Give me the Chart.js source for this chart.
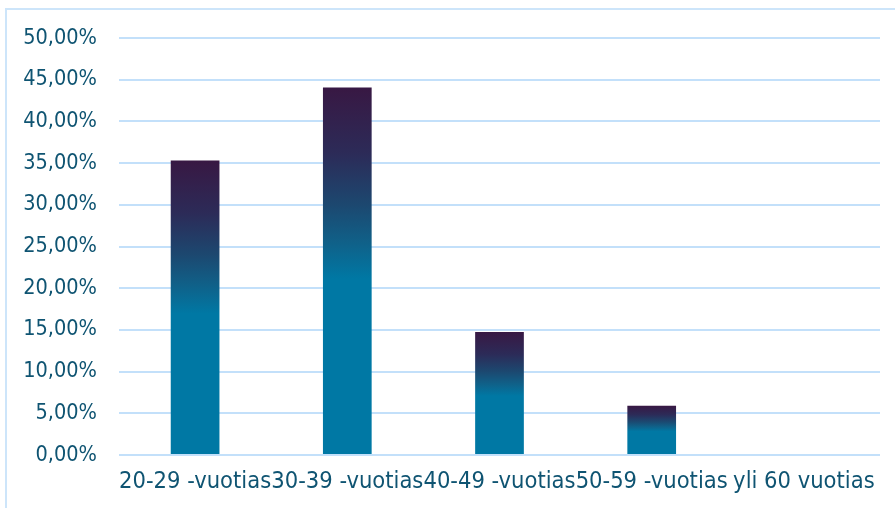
<!DOCTYPE html>
<html>
<head>
<meta charset="utf-8">
<script src="https://cdn.jsdelivr.net/npm/chart.js@4"></script>
<style>
  html, body { margin: 0; padding: 0; background: #ffffff; }
  #wrap { width: 895px; height: 508px; position: relative; }
</style>
</head>
<body>
<div id="wrap"><canvas id="chart" width="895" height="508"></canvas></div>
<script>
// Age groups and their shares (%)
const categories = ['20-29 -vuotias', '30-39 -vuotias', '40-49 -vuotias', '50-59 -vuotias', 'yli 60 vuotias'];
const shares = [35.3, 44.05, 14.75, 5.9, 0];
const yTickMax = 50;
const yTickStep = 5;

const TEXT = '#0f5472';
const GRID = '#c3e0fa';
const FONT = '"DejaVu Sans Condensed", "DejaVu Sans", sans-serif';

// Vertical gradient per bar: dark plum at the top fading to teal by the middle
function barFill(ctx) {
  const chart = ctx.chart;
  const y = chart.scales.y;
  if (!y || ctx.parsed === undefined) return '#0078a4';
  const top = y.getPixelForValue(ctx.parsed.y);
  const bottom = y.getPixelForValue(0);
  if (!isFinite(top) || bottom - top < 1) return '#0078a4';
  const g = chart.ctx.createLinearGradient(0, top, 0, bottom);
  g.addColorStop(0, '#381843');
  g.addColorStop(0.18, '#2c2b58');
  g.addColorStop(0.32, '#1c4870');
  g.addColorStop(0.42, '#106088');
  g.addColorStop(0.52, '#0078a4');
  g.addColorStop(1, '#0078a4');
  return g;
}

// Thin frame along the top and left edges of the chart box
const frame = {
  id: 'frame',
  beforeDraw(chart) {
    const c = chart.ctx;
    c.save();
    c.strokeStyle = '#cde5fa';
    c.lineWidth = 2;
    c.beginPath();
    c.moveTo(6, 508);
    c.lineTo(6, 9);
    c.lineTo(895, 9);
    c.stroke();
    c.restore();
  }
};

new Chart(document.getElementById('chart'), {
  type: 'bar',
  data: {
    labels: categories,
    datasets: [{
      data: shares,
      backgroundColor: barFill,
      borderWidth: 0,
      categoryPercentage: 1,
      barPercentage: 0.32
    }]
  },
  options: {
    responsive: false,
    animation: false,
    layout: { padding: { top: 38, right: 15, left: 0, bottom: 0 } },
    plugins: { legend: { display: false }, tooltip: { enabled: false } },
    scales: {
      x: {
        grid: { display: false, drawTicks: false },
        border: { display: false },
        ticks: {
          color: TEXT,
          font: { family: FONT, size: 23.5 },
          padding: 13,
          autoSkip: false,
          maxRotation: 0,
          minRotation: 0
        },
        afterFit(scale) { scale.height = 53; }
      },
      y: {
        min: 0,
        max: yTickMax,
        grid: { color: GRID, lineWidth: 2, drawTicks: false },
        border: { display: false },
        ticks: {
          stepSize: yTickStep,
          color: TEXT,
          font: { family: FONT, size: 21.5 },
          padding: 22,
          callback: v => v.toFixed(2).replace('.', ',') + '%'
        },
        afterFit(scale) { scale.width = 119; }
      }
    }
  },
  plugins: [frame]
});
</script>
</body>
</html>
